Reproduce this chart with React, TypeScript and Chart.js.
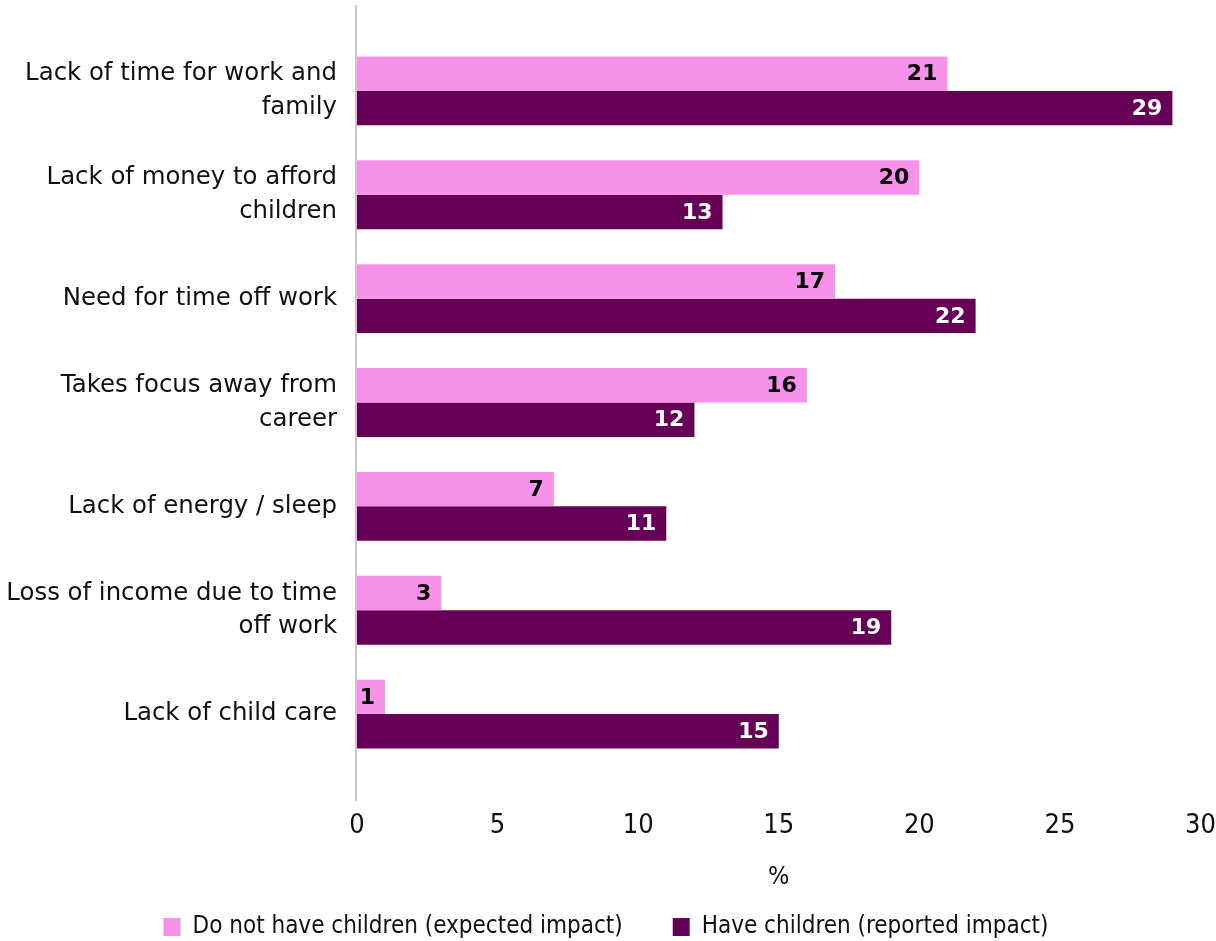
import React, { useEffect, useRef } from "react";
import { Chart, registerables } from "chart.js";

Chart.register(...registerables);

const categories: string[][] = [
  ["Lack of time for work and", "family"],
  ["Lack of money to afford", "children"],
  ["Need for time off work"],
  ["Takes focus away from", "career"],
  ["Lack of energy / sleep"],
  ["Loss of income due to time", "off work"],
  ["Lack of child care"],
];
const noChildren = [21, 20, 17, 16, 7, 3, 1];
const haveChildren = [29, 13, 22, 12, 11, 19, 15];
const seriesNames = [
  "Do not have children (expected impact)",
  "Have children (reported impact)",
];
const xMin = 0;
const xMax = 30;
const xStep = 5;
const axisTitle = "%";

const PINK = "#F792EB";
const PURPLE = "#660057";
const TEXT = "#111111";

const valueLabels = {
  id: "valueLabels",
  afterDatasetsDraw(chart: any) {
    const ctx = chart.ctx;
    chart.data.datasets.forEach((ds: any, di: number) => {
      const meta = chart.getDatasetMeta(di);
      meta.data.forEach((bar: any, i: number) => {
        const v = ds.data[i];
        ctx.save();
        ctx.font = "bold 22px 'DejaVu Sans'";
        ctx.fillStyle = di === 0 ? "#000000" : "#ffffff";
        ctx.textAlign = "right";
        ctx.textBaseline = "middle";
        ctx.fillText(String(v), bar.x - 10, bar.y + 1);
        ctx.restore();
      });
    });
  },
};

const axisLine = {
  id: "axisLine",
  beforeDatasetsDraw(chart: any) {
    const { ctx, chartArea, scales } = chart;
    const x = scales.x.getPixelForValue(0);
    ctx.save();
    ctx.strokeStyle = "#c8c8c8";
    ctx.lineWidth = 2;
    ctx.beginPath();
    ctx.moveTo(x - 1, chartArea.top - 34);
    ctx.lineTo(x - 1, chartArea.bottom + 35);
    ctx.stroke();
    ctx.restore();
  },
};

export default function App() {
  const ref = useRef<HTMLCanvasElement | null>(null);
  useEffect(() => {
    if (!ref.current) return;
    const chart = new Chart(ref.current, {
      type: "bar",
      data: {
        labels: categories as any,
        datasets: [
          { label: seriesNames[0], data: noChildren, backgroundColor: PINK, borderWidth: 0 },
          { label: seriesNames[1], data: haveChildren, backgroundColor: PURPLE, borderWidth: 0 },
        ],
      },
      options: {
        indexAxis: "y",
        animation: false,
        responsive: true,
        maintainAspectRatio: false,
        layout: { padding: { top: 39, right: 4, bottom: -8, left: 0 } },
        datasets: { bar: { categoryPercentage: 0.663, barPercentage: 1 } } as any,
        scales: {
          x: {
            min: xMin,
            max: xMax,
            ticks: {
              stepSize: xStep,
              padding: 0,
              color: TEXT,
              font: { family: "'DejaVu Sans Condensed'", size: 27 },
            },
            grid: { display: false, drawTicks: true, tickLength: 44 },
            border: { display: false },
            title: {
              display: true,
              text: axisTitle,
              color: TEXT,
              font: { family: "'DejaVu Sans Condensed'", size: 25 },
              padding: { top: 19.6, bottom: -27 },
            },
          },
          y: {
            grid: { display: false, drawTicks: false },
            border: { display: false },
            ticks: {
              padding: 20,
              color: TEXT,
              font: { family: "'DejaVu Sans'", size: 24.4, lineHeight: 1.38 },
            },
            afterFit: (s: any) => {
              s.width = 357;
            },
          },
        },
        plugins: {
          legend: {
            position: "bottom",
            labels: {
              boxWidth: 17,
              boxHeight: 18,
              padding: 50,
              color: TEXT,
              font: { family: "'DejaVu Sans Condensed'", size: 24 },
            },
          },
          tooltip: { enabled: false },
        },
      },
      plugins: [axisLine, valueLabels],
    });
    return () => chart.destroy();
  }, []);
  return (
    <div style={{ position: "absolute", left: 0, top: 0, width: 1216, height: 941 }}>
      <canvas ref={ref} />
    </div>
  );
}
